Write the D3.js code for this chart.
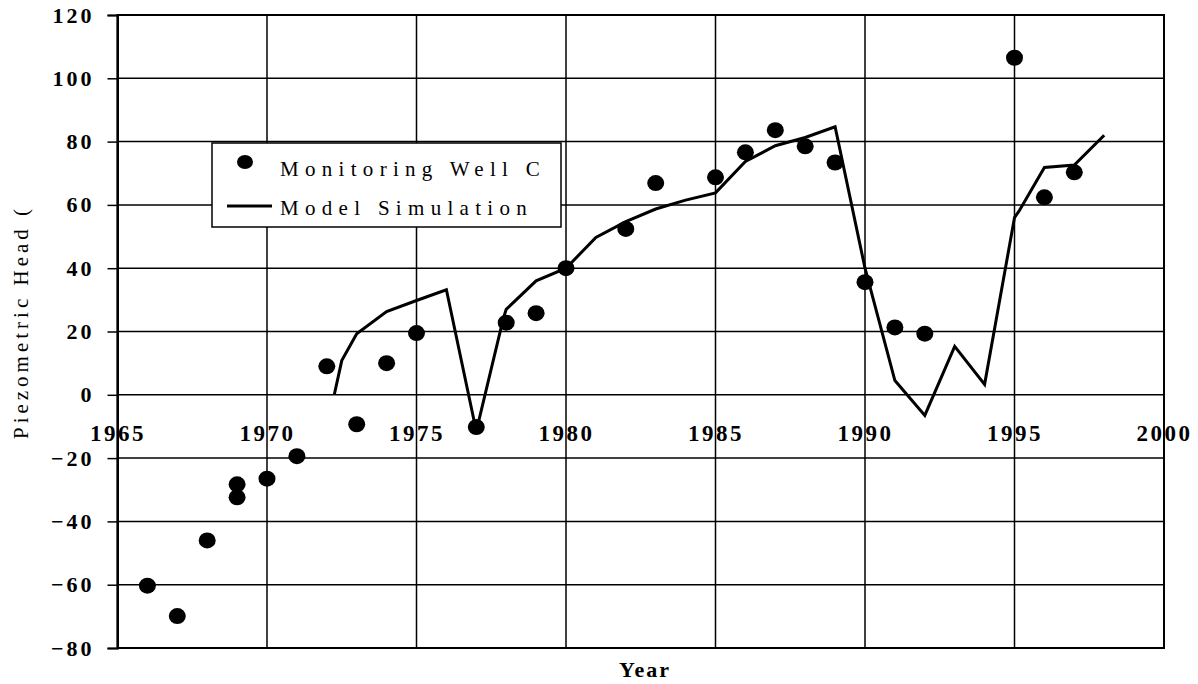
<!DOCTYPE html>
<html>
<head>
<meta charset="utf-8">
<script src="https://cdn.jsdelivr.net/npm/d3@7"></script>
<style>
	body { margin: 0; background: #fff; }
</style>
</head>
<body>
<svg id="chart"></svg>
<script>
var width = 1198,
	height = 684;

var serif = "'Liberation Serif'";

// Monitoring Well C observations
var wellYears = [1966, 1967, 1968, 1969, 1969, 1970, 1971, 1972, 1973, 1974, 1975, 1977, 1978, 1979, 1980,
	1982, 1983, 1985, 1986, 1987, 1988, 1989, 1990, 1991, 1992, 1995, 1996, 1997];
var wellHead = [-60.3, -69.9, -46, -28.3, -32.4, -26.5, -19.4, 9, -9.3, 10, 19.5, -10.2, 22.8, 25.8, 40,
	52.4, 66.9, 68.7, 76.6, 83.6, 78.5, 73.4, 35.6, 21.3, 19.3, 106.5, 62.4, 70.3];

// Model simulation
var simYears = [1972.25, 1972.5, 1973, 1974, 1975, 1976, 1977, 1977.9, 1978, 1979, 1980, 1981, 1982, 1983,
	1984, 1985, 1986, 1987, 1988, 1989, 1990, 1991, 1992, 1993, 1994, 1995, 1995.15, 1996, 1997, 1998];
var simHead = [0, 10.8, 19.3, 26.3, 29.8, 33.2, -11.5, 24, 27, 36, 40, 49.7, 54.7, 58.7,
	61.5, 63.8, 73.7, 78.7, 81.3, 84.7, 40, 4.5, -6.5, 15.3, 3.3, 56, 58, 71.8, 72.6, 82];

var yearTicks = [1965, 1970, 1975, 1980, 1985, 1990, 1995, 2000];
var headTicks = [-80, -60, -40, -20, 0, 20, 40, 60, 80, 100, 120];

var legendLabels = ["Monitoring Well C", "Model Simulation"];

var svg = d3.select("#chart")
	.attr("width", width)
	.attr("height", height);

var x = d3.scaleLinear().domain([1965, 2000]).range([117.5, 1164]),
	y = d3.scaleLinear().domain([-80, 120]).range([648, 15]);

// grid
svg.append("g")
	.selectAll("line")
	.data(headTicks)
	.enter()
	.append("line")
	.attr("x1", x(1965)).attr("x2", x(2000))
	.attr("y1", function (d) { return y(d); })
	.attr("y2", function (d) { return y(d); })
	.attr("stroke", "#000").attr("stroke-width", 1.5);

svg.append("g")
	.selectAll("line")
	.data(yearTicks)
	.enter()
	.append("line")
	.attr("x1", function (d) { return x(d); })
	.attr("x2", function (d) { return x(d); })
	.attr("y1", y(-80)).attr("y2", y(120))
	.attr("stroke", "#000").attr("stroke-width", 1.5);

// y axis
var yAxis = d3.axisLeft(y)
	.tickValues(headTicks)
	.tickSize(10)
	.tickPadding(13);

var gY = svg.append("g")
	.attr("transform", "translate(" + x(1965) + ",0)")
	.call(yAxis)
	.attr("font-family", null);
gY.select(".domain").attr("stroke-width", 2);
gY.selectAll(".tick line").attr("stroke-width", 1.5);
gY.selectAll(".tick text")
	.style("font-family", serif)
	.style("font-size", "22px")
	.style("font-weight", "bold")
	.style("letter-spacing", "3px");

// x labels sit under the zero line
var xAxis = d3.axisBottom(x)
	.tickValues(yearTicks)
	.tickSize(0)
	.tickPadding(30)
	.tickFormat(d3.format("d"));

var gX = svg.append("g")
	.attr("transform", "translate(0," + y(0) + ")")
	.call(xAxis)
	.attr("font-family", null);
gX.select(".domain").remove();
gX.selectAll(".tick text")
	.style("font-family", serif)
	.style("font-size", "23px")
	.style("font-weight", "bold")
	.style("letter-spacing", "2.5px");

// frame
svg.append("rect")
	.attr("x", x(1965)).attr("y", y(120))
	.attr("width", x(2000) - x(1965))
	.attr("height", y(-80) - y(120))
	.attr("fill", "none")
	.attr("stroke", "#000")
	.attr("stroke-width", 2);

// simulation line
var line = d3.line()
	.x(function (d) { return x(d[0]); })
	.y(function (d) { return y(d[1]); });

svg.append("path")
	.datum(d3.zip(simYears, simHead))
	.attr("d", line)
	.attr("fill", "none")
	.attr("stroke", "#000")
	.attr("stroke-width", 3)
	.attr("stroke-linejoin", "miter");

// well points
svg.append("g")
	.selectAll("ellipse")
	.data(d3.zip(wellYears, wellHead))
	.enter()
	.append("ellipse")
	.attr("cx", function (d) { return x(d[0]); })
	.attr("cy", function (d) { return y(d[1]); })
	.attr("rx", 8.5)
	.attr("ry", 8)
	.attr("fill", "#000");

// legend
var legend = svg.append("g");
legend.append("rect")
	.attr("x", 212).attr("y", 143)
	.attr("width", 349).attr("height", 84)
	.attr("fill", "#fff")
	.attr("stroke", "#000")
	.attr("stroke-width", 1.5);
legend.append("ellipse")
	.attr("cx", 245).attr("cy", 162)
	.attr("rx", 8).attr("ry", 7)
	.attr("fill", "#000");
legend.append("line")
	.attr("x1", 227).attr("x2", 272)
	.attr("y1", 206).attr("y2", 206)
	.attr("stroke", "#000").attr("stroke-width", 3);
legend.selectAll("text")
	.data(legendLabels)
	.enter()
	.append("text")
	.attr("x", 280)
	.attr("y", function (d, i) { return 176 + i * 39; })
	.style("font-family", serif)
	.style("font-size", "21px")
	.style("letter-spacing", "6.3px")
	.text(function (d) { return d; });

// axis titles
svg.append("text")
	.attr("transform", "translate(28,322) rotate(-90)")
	.attr("text-anchor", "middle")
	.style("font-family", serif)
	.style("font-size", "21px")
	.style("letter-spacing", "4px")
	.text("Piezometric Head (");

svg.append("text")
	.attr("x", 645)
	.attr("y", 677)
	.attr("text-anchor", "middle")
	.style("font-family", serif)
	.style("font-size", "22px")
	.style("font-weight", "bold")
	.style("letter-spacing", "2px")
	.text("Year");
</script>
</body>
</html>
